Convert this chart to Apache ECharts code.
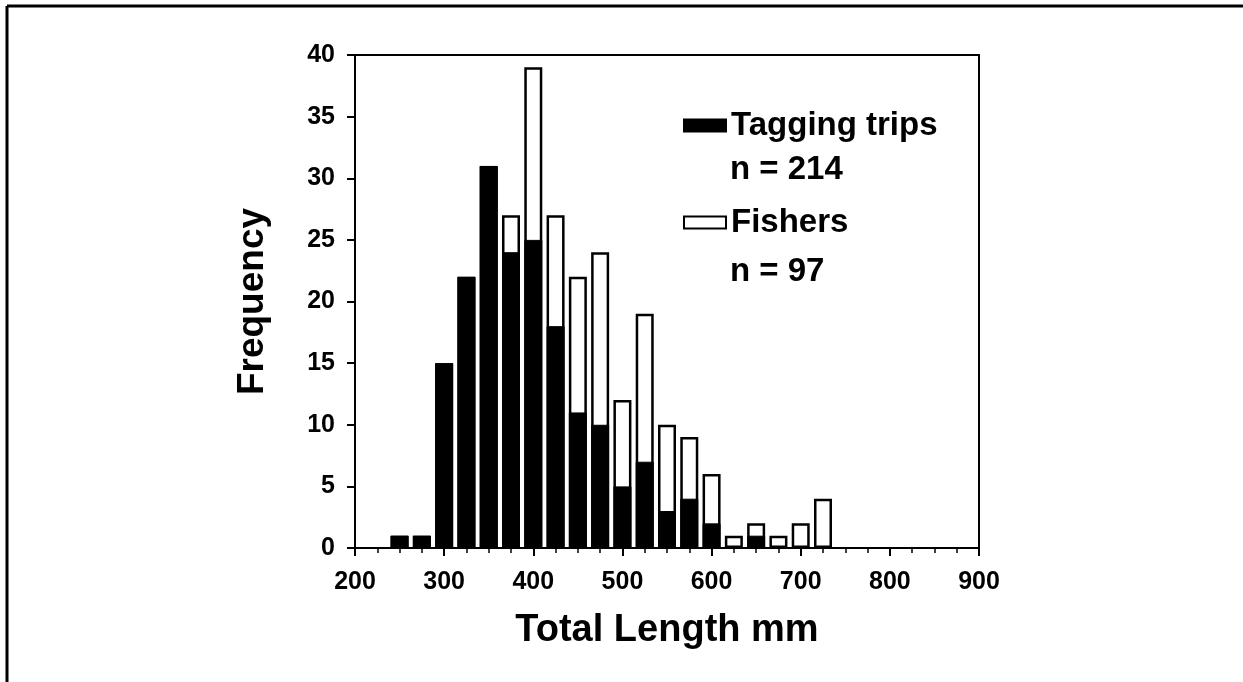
<!DOCTYPE html>
<html>
<head>
<meta charset="utf-8">
<script src="https://cdn.jsdelivr.net/npm/echarts@6/dist/echarts.min.js"></script>
<style>
  html, body { margin: 0; padding: 0; background: #fff; }
  #main { width: 1243px; height: 682px; }
</style>
</head>
<body>
<div id="main"></div>
<script>
// bin centres (mm), 25 mm classes
const bins = [250, 275, 300, 325, 350, 375, 400, 425, 450, 475, 500, 525, 550, 575, 600, 625, 650, 675, 700, 725];
const tagging = [1, 1, 15, 22, 31, 24, 25, 18, 11, 10, 5, 7, 3, 4, 2, 0, 1, 0, 0, 0];
const fishers = [0, 0, 0, 0, 0, 3, 14, 9, 11, 14, 7, 12, 7, 5, 4, 1, 1, 1, 2, 4];
const xTicks = [200, 300, 400, 500, 600, 700, 800, 900];
const yTicks = [0, 5, 10, 15, 20, 25, 30, 35, 40];

const font = 'Liberation Sans, Arial, sans-serif';
const chart = echarts.init(document.getElementById('main'));

// stacked look: fishers drawn on top of tagging (white part = fishers count)
const fishersTop = bins.map((b, i) => [b, tagging[i] + fishers[i]]);

const option = {
    animation: false,
    backgroundColor: '#fff',
    grid: {
        left: 355,
        right: 264,
        top: 55,
        bottom: 134,
        show: true,
        borderColor: '#000',
        borderWidth: 2,
        backgroundColor: 'transparent'
    },
    legend: {
        orient: 'vertical',
        left: 678,
        top: 104,
        itemWidth: 42,
        itemHeight: 12,
        itemGap: 64,
        icon: 'rect',
        data: ['Tagging trips', 'Fishers'],
        textStyle: {fontFamily: font, fontWeight: 'bold', fontSize: 33, color: '#000'}
    },
    xAxis: {
        type: 'value',
        min: xTicks[0],
        max: xTicks[xTicks.length - 1],
        interval: 100,
        name: 'Total Length mm',
        nameLocation: 'middle',
        nameGap: 64,
        nameTextStyle: {fontFamily: font, fontWeight: 'bold', fontSize: 38, color: '#000'},
        axisLine: {lineStyle: {color: '#000', width: 2}},
        axisTick: {length: 8, lineStyle: {color: '#000', width: 2}},
        minorTick: {show: true, splitNumber: 4, length: 5, lineStyle: {color: '#000', width: 1.5}},
        splitLine: {show: false},
        axisLabel: {fontFamily: font, fontWeight: 'bold', fontSize: 25, color: '#000', margin: 22}
    },
    yAxis: {
        type: 'value',
        min: yTicks[0],
        max: yTicks[yTicks.length - 1],
        interval: 5,
        name: 'Frequency',
        nameLocation: 'middle',
        nameGap: 84,
        nameTextStyle: {fontFamily: font, fontWeight: 'bold', fontSize: 37, color: '#000'},
        axisLine: {show: true, lineStyle: {color: '#000', width: 2}},
        axisTick: {show: true, length: 8, lineStyle: {color: '#000', width: 2}},
        splitLine: {show: false},
        axisLabel: {fontFamily: font, fontWeight: 'bold', fontSize: 25, color: '#000', margin: 20}
    },
    series: [
        {
            name: 'Fishers',
            type: 'bar',
            barWidth: 18,
            barGap: '-100%',
            itemStyle: {color: '#fff', borderColor: '#000', borderWidth: 2.5},
            data: fishersTop
        },
        {
            name: 'Tagging trips',
            type: 'bar',
            barWidth: 18,
            barGap: '-100%',
            itemStyle: {color: '#000', borderColor: '#000', borderWidth: 1},
            data: bins.map((b, i) => [b, tagging[i]])
        }
    ],
    graphic: [
        {type: 'line', shape: {x1: 7, y1: 6, x2: 1243, y2: 6}, style: {stroke: '#000', lineWidth: 3}},
        {type: 'line', shape: {x1: 7, y1: 6, x2: 7, y2: 682}, style: {stroke: '#000', lineWidth: 3}},
        {type: 'text', left: 730, top: 153, style: {text: 'n = 214', font: 'bold 33px ' + font, fill: '#000'}},
        {type: 'text', left: 730, top: 255, style: {text: 'n = 97', font: 'bold 33px ' + font, fill: '#000'}}
    ]
};

chart.setOption(option);
</script>
</body>
</html>
